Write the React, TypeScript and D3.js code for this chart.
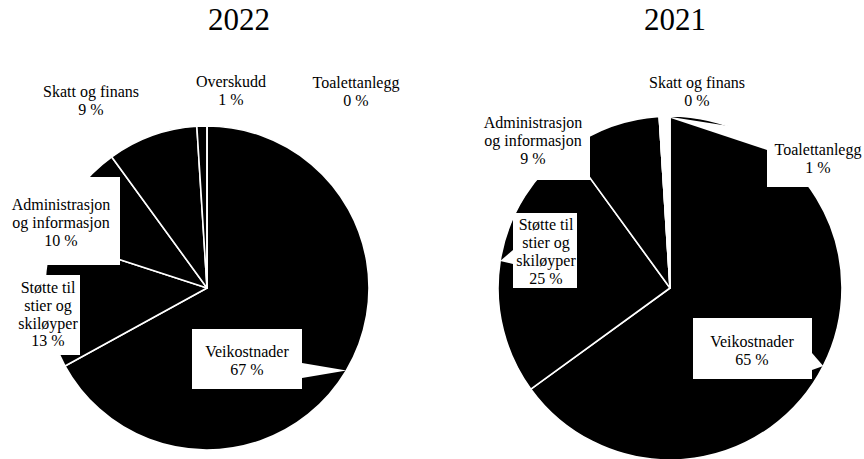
import React from "react";
import * as d3 from "d3";

const years = ["2022", "2021"];
const categories2022 = ["Veikostnader", "Støtte til stier og skiløyper", "Administrasjon og informasjon", "Skatt og finans", "Overskudd", "Toalettanlegg"];
const values2022 = [67, 13, 10, 9, 1, 0];
const categories2021 = ["Veikostnader", "Støtte til stier og skiløyper", "Administrasjon og informasjon", "Skatt og finans", "Toalettanlegg"];
const values2021 = [65, 25, 9, 0, 1];

const lineBreaks: Record<string, string[]> = {
  "Veikostnader": ["Veikostnader"],
  "Støtte til stier og skiløyper": ["Støtte til", "stier og", "skiløyper"],
  "Administrasjon og informasjon": ["Administrasjon", "og informasjon"],
  "Skatt og finans": ["Skatt og finans"],
  "Overskudd": ["Overskudd"],
  "Toalettanlegg": ["Toalettanlegg"],
};

type LabelLayout = { box?: [number, number, number, number]; pointer?: [number, number, number, number]; x: number; y: number; lh: number };

const layouts = [
  {
    cx: 207, cy: 288, r: 162, titleX: 239,
    labels: {
      "Veikostnader": { box: [192, 329, 302, 389], pointer: [302, 363, 302, 378], x: 247, y: 357, lh: 17.5 },
      "Støtte til stier og skiløyper": { box: [8, 275, 80, 355], x: 48, y: 293, lh: 17.8 },
      "Administrasjon og informasjon": { box: [4, 177, 120, 265], x: 61, y: 210, lh: 18 },
      "Skatt og finans": { x: 91, y: 97, lh: 18 },
      "Overskudd": { x: 231, y: 87, lh: 18 },
      "Toalettanlegg": { x: 356, y: 88, lh: 18 },
    } as Record<string, LabelLayout>,
  },
  {
    cx: 670, cy: 288, r: 172, titleX: 675,
    labels: {
      "Veikostnader": { box: [693, 318, 812, 379], pointer: [812, 353, 812, 370], x: 752, y: 347, lh: 18 },
      "Støtte til stier og skiløyper": { box: [513, 213, 577, 288], pointer: [513, 250, 513, 264], x: 546, y: 229.5, lh: 18 },
      "Administrasjon og informasjon": { box: [478, 110, 590, 180], x: 533, y: 128, lh: 18 },
      "Skatt og finans": { x: 697, y: 88, lh: 18 },
      "Toalettanlegg": { box: [767, 131, 870, 187], pointer: [767, 132, 767, 150], x: 818, y: 155, lh: 17.5 },
    } as Record<string, LabelLayout>,
  },
];

const datasets = [
  { cats: categories2022, vals: values2022 },
  { cats: categories2021, vals: values2021 },
];

const FONT = "'Liberation Serif', 'Times New Roman', 'DejaVu Serif', serif";

export default function App() {
  return (
    <svg width={864} height={459} style={{ position: "absolute", left: 0, top: 0, background: "#fff" }}>
      {datasets.map((ds, i) => {
        const L = layouts[i];
        const items = ds.cats.map((c, j) => ({ c, v: ds.vals[j] }));
        const pie = d3.pie<{ c: string; v: number }>().sort(null).value((d) => d.v);
        const arcs = pie(items);
        const arc = d3.arc<d3.PieArcDatum<{ c: string; v: number }>>().innerRadius(0).outerRadius(L.r);
        return (
          <g key={years[i]}>
            <text x={L.titleX} y={30} textAnchor="middle" fontFamily={FONT} fontSize={31} fill="#000">{years[i]}</text>
            <g transform={`translate(${L.cx},${L.cy})`}>
              {arcs.map((a) => (
                <path key={a.data.c} d={arc(a) || ""} fill={a.data.c === "Toalettanlegg" ? "#fff" : "#000"} stroke="#fff" strokeWidth={1.6} strokeLinejoin="round" />
              ))}
            </g>
            {arcs.map((a) => {
              const lay = L.labels[a.data.c];
              if (!lay || !lay.box) return null;
              const [x0, y0, x1, y1] = lay.box;
              const parts = [<rect key="r" x={x0} y={y0} width={x1 - x0} height={y1 - y0} fill="#fff" />];
              if (lay.pointer) {
                const mid = (a.startAngle + a.endAngle) / 2;
                const tx = L.cx + L.r * Math.sin(mid);
                const ty = L.cy - L.r * Math.cos(mid);
                const [px0, py0, px1, py1] = lay.pointer;
                parts.push(<path key="p" d={`M${px0},${py0}L${tx},${ty}L${px1},${py1}Z`} fill="#fff" />);
              }
              return <g key={"box" + a.data.c}>{parts}</g>;
            })}
            {arcs.map((a) => {
              const lay = L.labels[a.data.c];
              if (!lay) return null;
              const lines = [...lineBreaks[a.data.c], `${a.data.v} %`];
              return (
                <text key={"t" + a.data.c} textAnchor="middle" fontFamily={FONT} fontSize={16} fill="#000">
                  {lines.map((ln, k) => (
                    <tspan key={k} x={lay.x} y={lay.y + k * lay.lh}>{ln}</tspan>
                  ))}
                </text>
              );
            })}
          </g>
        );
      })}
    </svg>
  );
}
